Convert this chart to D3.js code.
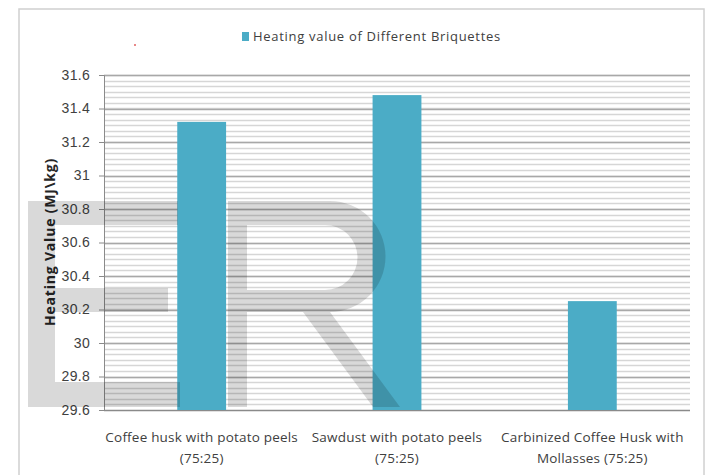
<!DOCTYPE html>
<html>
<head>
<meta charset="utf-8">
<script src="https://cdnjs.cloudflare.com/ajax/libs/d3/7.8.5/d3.min.js"></script>
<style>
  body { margin: 0; background: #fff; }
  svg { display: block; font-family: "Open Sans", "DejaVu Sans", sans-serif; }
</style>
</head>
<body>
<div class="chart"></div>
<script>
// data
var categories = [
    ["Coffee husk with potato peels", "(75:25)"],
    ["Sawdust with potato peels", "(75:25)"],
    ["Carbinized Coffee Husk with", "Mollasses (75:25)"]
];
var heatingValues = [31.32, 31.48, 30.25];
var seriesName = "Heating value of Different Briquettes";
var yTicks = [29.6, 29.8, 30, 30.2, 30.4, 30.6, 30.8, 31, 31.2, 31.4, 31.6];
var yTitle = "Heating Value (MJ\\kg)";

var width = 712, height = 475;
var plot = {left: 104, right: 690, top: 75, bottom: 410};

var svg = d3.select(".chart").append("svg")
    .attr("width", width)
    .attr("height", height);

svg.append("rect")
    .attr("width", width).attr("height", height)
    .attr("fill", "#fff");

// outer chart border
svg.append("rect")
    .attr("x", 19).attr("y", 9)
    .attr("width", 685).attr("height", 480)
    .attr("fill", "none")
    .attr("stroke", "#d0d0d0")
    .attr("stroke-width", 1.5);

var x = d3.scaleBand()
    .domain(d3.range(categories.length))
    .range([plot.left, plot.right])
    .paddingInner(0.75)
    .paddingOuter(0.375);

var y = d3.scaleLinear()
    .domain([29.6, 31.6])
    .range([plot.bottom, plot.top]);

// minor grid (6 per major step)
var minor = d3.range(0, 61).map(function (i) { return 29.6 + i * 0.2 / 6; });
svg.append("g").selectAll("line")
    .data(minor)
    .enter()
    .append("line")
    .attr("x1", plot.left).attr("x2", plot.right)
    .attr("y1", function (d) { return Math.round(y(d)) + 0.5; })
    .attr("y2", function (d) { return Math.round(y(d)) + 0.5; })
    .attr("stroke", "#d6d6d6")
    .attr("stroke-width", 1.5);

// major grid
svg.append("g").selectAll("line")
    .data(yTicks)
    .enter()
    .append("line")
    .attr("x1", plot.left).attr("x2", plot.right)
    .attr("y1", function (d) { return Math.round(y(d)) + 0.5; })
    .attr("y2", function (d) { return Math.round(y(d)) + 0.5; })
    .attr("stroke", "#a8a8a8")
    .attr("stroke-width", 1.5);

// bars
svg.append("g").selectAll("rect")
    .data(heatingValues)
    .enter()
    .append("rect")
    .attr("x", function (d, i) { return x(i); })
    .attr("width", x.bandwidth())
    .attr("y", function (d) { return y(d); })
    .attr("height", function (d) { return y(29.6) - y(d); })
    .attr("fill", "#4bacc6");

// y axis
var yAxis = svg.append("g")
    .attr("transform", "translate(" + plot.left + ",0)")
    .call(d3.axisLeft(y).tickValues(yTicks).tickSize(5).tickPadding(9)
        .tickFormat(function (d) { return d3.format("")(+d.toFixed(1)); }));
yAxis.select(".domain").attr("stroke", "#8a8a8a");
yAxis.selectAll(".tick line").attr("stroke", "#8a8a8a");
yAxis.selectAll("text")
    .attr("fill", "#404040")
    .style("font-size", "14px")
    .style("letter-spacing", "0.3px");

// x axis line
svg.append("line")
    .attr("x1", plot.left).attr("x2", plot.right)
    .attr("y1", plot.bottom + 0.5).attr("y2", plot.bottom + 0.5)
    .attr("stroke", "#8a8a8a");

// category labels
var labels = svg.append("g").selectAll("text")
    .data(categories)
    .enter()
    .append("text")
    .attr("text-anchor", "middle")
    .attr("fill", "#404040")
    .style("font-size", "13.5px")
    .style("letter-spacing", "0.2px")
    .attr("transform", function (d, i) {
        return "translate(" + (x(i) + x.bandwidth() / 2) + ",442)";
    });
labels.selectAll("tspan")
    .data(function (d) { return d; })
    .enter()
    .append("tspan")
    .attr("x", 0)
    .attr("dy", function (d, i) { return i === 0 ? 0 : 21; })
    .text(function (d) { return d; });

// y title
svg.append("text")
    .attr("transform", "translate(55,242) rotate(-90)")
    .attr("text-anchor", "middle")
    .attr("fill", "#262626")
    .style("font-size", "14px")
    .style("letter-spacing", "0.8px")
    .style("font-weight", "bold")
    .text(yTitle);

// legend
var legend = svg.append("g").attr("transform", "translate(242,32)");
legend.append("rect")
    .attr("width", 7).attr("height", 9)
    .attr("fill", "#4bacc6");
legend.append("text")
    .attr("x", 11).attr("y", 9)
    .attr("fill", "#404040")
    .style("font-size", "13px")
    .style("letter-spacing", "0.7px")
    .text(seriesName);

// red speck near the top left
svg.append("circle")
    .attr("cx", 135).attr("cy", 45).attr("r", 1)
    .attr("fill", "#e06060");

// "ER" watermark
var mark = svg.append("g").attr("fill", "#000").attr("fill-opacity", 0.15);
mark.append("path")
    .attr("d", "M28,201H178V225H55V288H168V312H55V382H180V407H28Z");
mark.append("path")
    .attr("fill-rule", "evenodd")
    .attr("d", "M228,201H330A55.5,55.5 0 0 1 330,312L400,407H373L303,312H247V407H228Z" +
        "M247,225H325A32.5,32.5 0 0 1 325,290H247Z");
</script>
</body>
</html>
